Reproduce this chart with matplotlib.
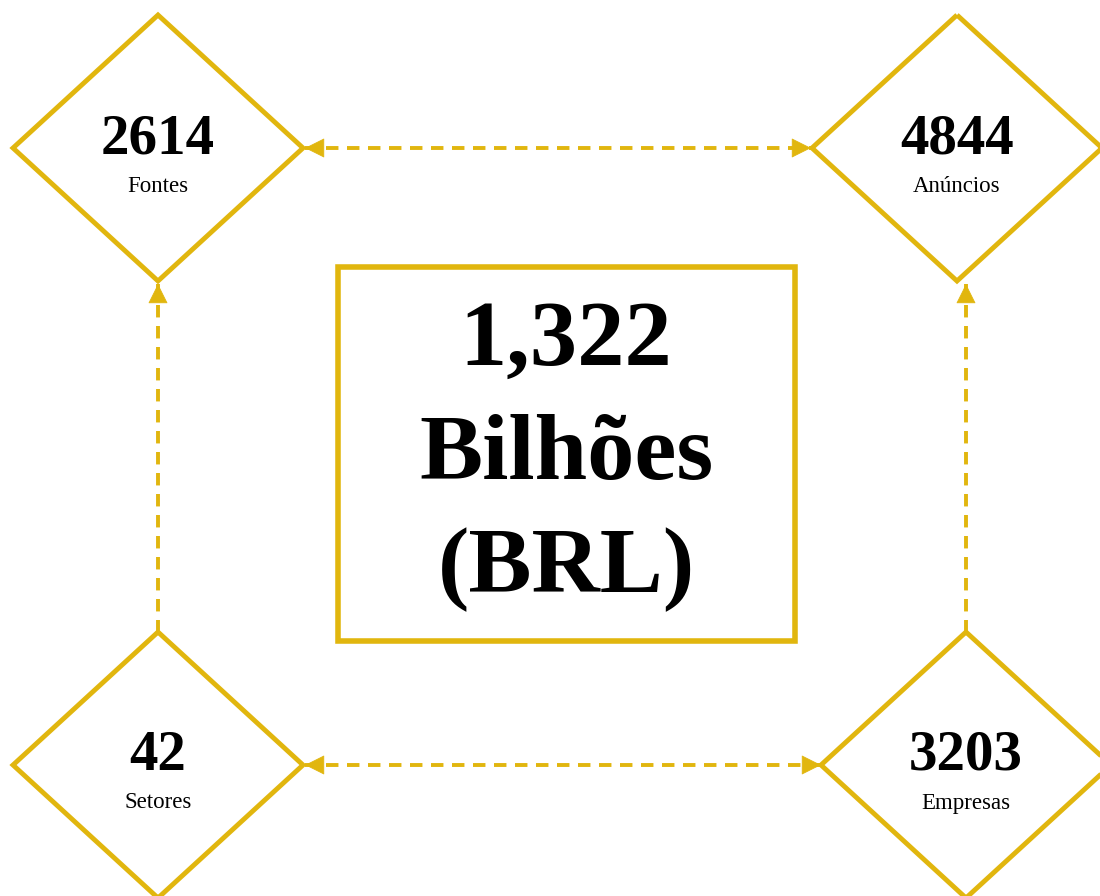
import matplotlib
matplotlib.use("Agg")
import matplotlib.pyplot as plt
from matplotlib.patches import Polygon, Rectangle, FancyArrowPatch

values = ["2614", "4844", "42", "3203"]
labels = ["Fontes", "Anúncios", "Setores", "Empresas"]
center_lines = ["1,322", "Bilhões", "(BRL)"]

GOLD = "#E1B60E"
FONT = "Liberation Serif"

fig = plt.figure(figsize=(11, 8.96), dpi=100)
ax = fig.add_axes([0, 0, 1, 1])
ax.set_xlim(0, 1100)
ax.set_ylim(896, 0)
ax.axis("off")

centers = [(158, 148), (957, 148), (158, 765), (966, 765)]
hw, hh = 145, 133

for (cx, cy), v, lab in zip(centers, values, labels):
    poly = Polygon([(cx, cy - hh), (cx + hw, cy), (cx, cy + hh), (cx - hw, cy)],
                   closed=True, fill=False, edgecolor=GOLD, linewidth=3.5, joinstyle="miter")
    ax.add_patch(poly)
    ax.text(cx, cy - 9, v, ha="center", va="center", fontsize=41, fontweight="bold",
            family=FONT, color="black")
    ax.text(cx, cy + 38, lab, ha="center", va="center", fontsize=16.5, family=FONT, color="black")

ax.add_patch(Rectangle((338, 267), 457, 374, fill=False, edgecolor=GOLD, linewidth=4))
for i, line in enumerate(center_lines):
    ax.text(566, 342 + i * 114, line, ha="center", va="center", fontsize=68,
            fontweight="bold", family=FONT, color="black")

# connectors: (start, end, head at start, head at end)
arrows = [((305, 148), (811, 148), True, True),
          ((305, 765), (821, 765), True, True),
          ((158, 284), (158, 633), True, False),
          ((966, 284), (966, 633), True, False)]

def head(tip, frm):
    ax.add_patch(FancyArrowPatch(frm, tip, arrowstyle="-|>,head_length=13,head_width=6.5",
                                 color=GOLD, linewidth=0.5, shrinkA=0, shrinkB=0,
                                 mutation_scale=1))

for a, b, ha_, hb_ in arrows:
    ax.plot([a[0], b[0]], [a[1], b[1]], color=GOLD, linewidth=2.8,
            linestyle=(0, (3.2, 2.2)), solid_capstyle="butt", dash_capstyle="butt")
    dx, dy = b[0] - a[0], b[1] - a[1]
    L = (dx ** 2 + dy ** 2) ** 0.5
    ux, uy = dx / L, dy / L
    if ha_:
        head(a, (a[0] + ux * 14, a[1] + uy * 14))
    if hb_:
        head(b, (b[0] - ux * 14, b[1] - uy * 14))

fig.savefig("out.png", dpi=100, facecolor="white")
